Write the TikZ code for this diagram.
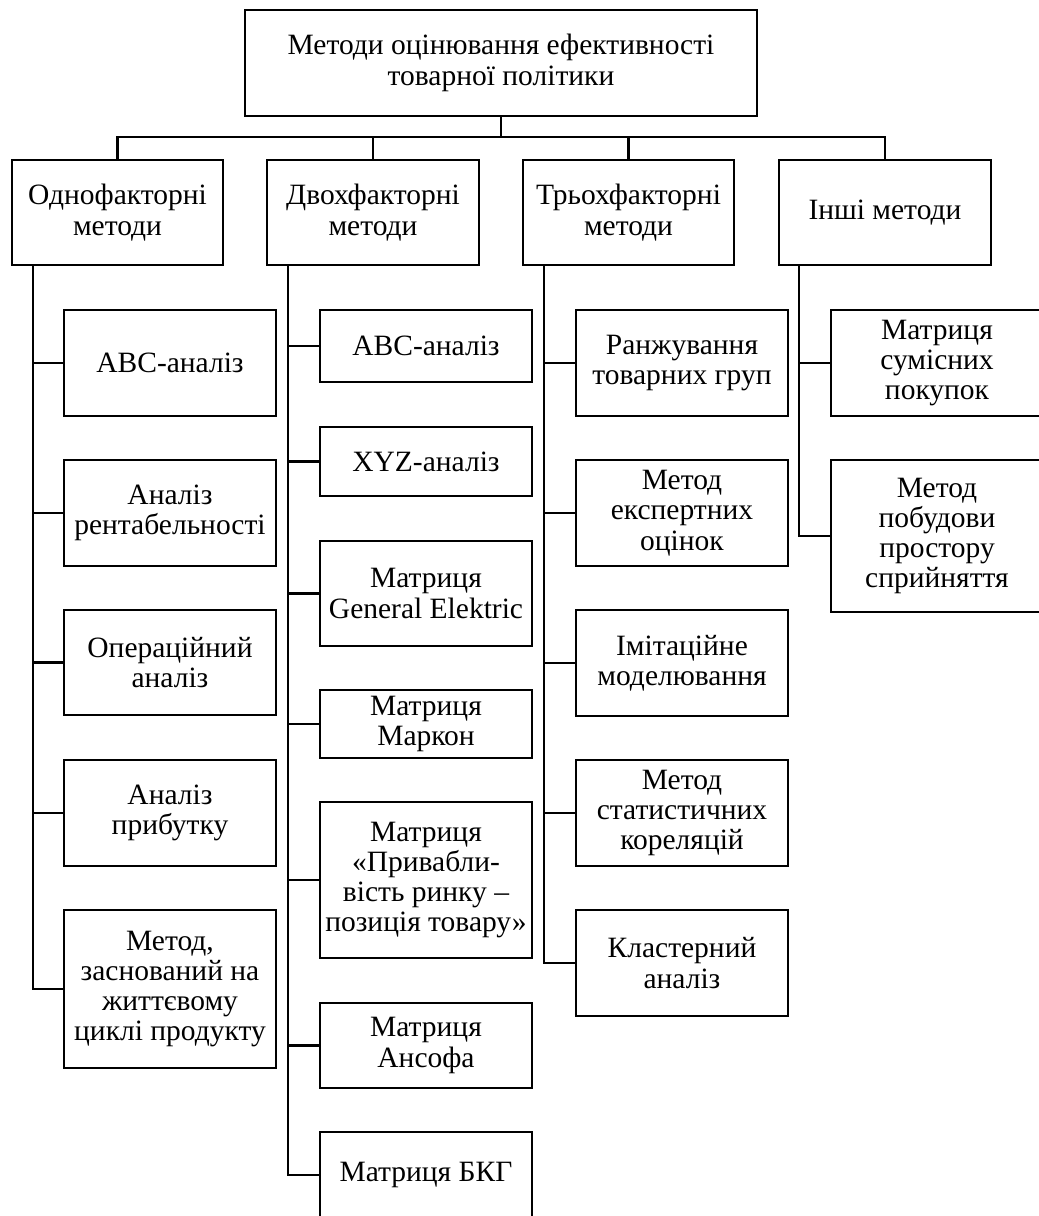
\documentclass[tikz,border=0pt]{standalone}
\usepackage{fontspec}
\setmainfont{Liberation Serif}
\begin{document}
\begin{tikzpicture}[x=1pt,y=-1pt,
  box/.style={draw, line width=2.5pt, align=center, inner sep=0pt,
    font=\fontsize{29.5}{30.3}\selectfont, minimum width=212pt},
  wire/.style={line width=2.4pt}]
\useasboundingbox (0,0) rectangle (1039,1216);
% top
\node[box, minimum width=512pt, minimum height=106pt] (top) at (501,63) {Методи оцінювання ефективності\\товарної політики};
% categories
\node[box, minimum width=211pt, minimum height=105pt] (c1) at (117.5,212.5) {Однофакторні\\методи};
\node[box, minimum width=212pt, minimum height=105pt] (c2) at (373,212.5) {Двохфакторні\\методи};
\node[box, minimum width=211pt, minimum height=105pt] (c3) at (628.5,212.5) {Трьохфакторні\\методи};
\node[box, minimum width=212pt, minimum height=105pt] (c4) at (885,212.5) {Інші методи};
\coordinate (bus) at (501,137);
\draw[wire] (top.south) -- (bus);
\draw[wire] (c1.north) |- (bus) -| (c4.north);
\draw[wire] (c2.north) -- (c2.north |- bus);
\draw[wire] (c3.north) -- (c3.north |- bus);
% column 1
\node[box, minimum height=106pt] (a1) at (170,363) {ABC-аналіз};
\node[box, minimum height=106pt] (a2) at (170,513) {Аналіз\\рентабельності};
\node[box, minimum height=105pt] (a3) at (170,662.5) {Операційний\\аналіз};
\node[box, minimum height=106pt] (a4) at (170,813) {Аналіз\\прибутку};
\node[box, minimum height=158pt] (a5) at (170,989) {Метод,\\заснований на\\життєвому\\циклі продукту};
% column 2
\node[box, minimum height=72pt] (b1) at (426,346) {ABC-аналіз};
\node[box, minimum height=69pt] (b2) at (426,461.5) {XYZ-аналіз};
\node[box, minimum height=105pt] (b3) at (426,593.5) {Матриця\\General Elektric};
\node[box, minimum height=68pt] (b4) at (426,724) {Матриця\\Маркон};
\node[box, minimum height=156pt] (b5) at (426,880) {Матриця\\«Привабли-\\вість ринку –\\позиція товару»};
\node[box, minimum height=85pt] (b6) at (426,1045.5) {Матриця\\Ансофа};
\node[box, minimum height=86pt] (b7) at (426,1175) {Матриця БКГ};
% column 3
\node[box, minimum height=106pt] (d1) at (682,363) {Ранжування\\товарних груп};
\node[box, minimum height=106pt] (d2) at (682,513) {Метод\\експертних\\оцінок};
\node[box, minimum height=106pt] (d3) at (682,663) {Імітаційне\\моделювання};
\node[box, minimum height=106pt] (d4) at (682,813) {Метод\\статистичних\\кореляцій};
\node[box, minimum height=106pt] (d5) at (682,963) {Кластерний\\аналіз};
% column 4
\node[box, minimum height=106pt] (e1) at (937,363) {Матриця\\сумісних\\покупок};
\node[box, minimum height=152pt] (e2) at (937,536) {Метод\\побудови\\простору\\сприйняття};
% trunks
\coordinate (t1) at (33,0);
\coordinate (t2) at (288,0);
\coordinate (t3) at (544,0);
\coordinate (t4) at (799,0);
\foreach \n in {a1,a2,a3,a4,a5} \draw[wire] (c1.south -| t1) |- (\n.west);
\foreach \n in {b1,b2,b3,b4,b5,b6,b7} \draw[wire] (c2.south -| t2) |- (\n.west);
\foreach \n in {d1,d2,d3,d4,d5} \draw[wire] (c3.south -| t3) |- (\n.west);
\foreach \n in {e1,e2} \draw[wire] (c4.south -| t4) |- (\n.west);
\end{tikzpicture}
\end{document}
